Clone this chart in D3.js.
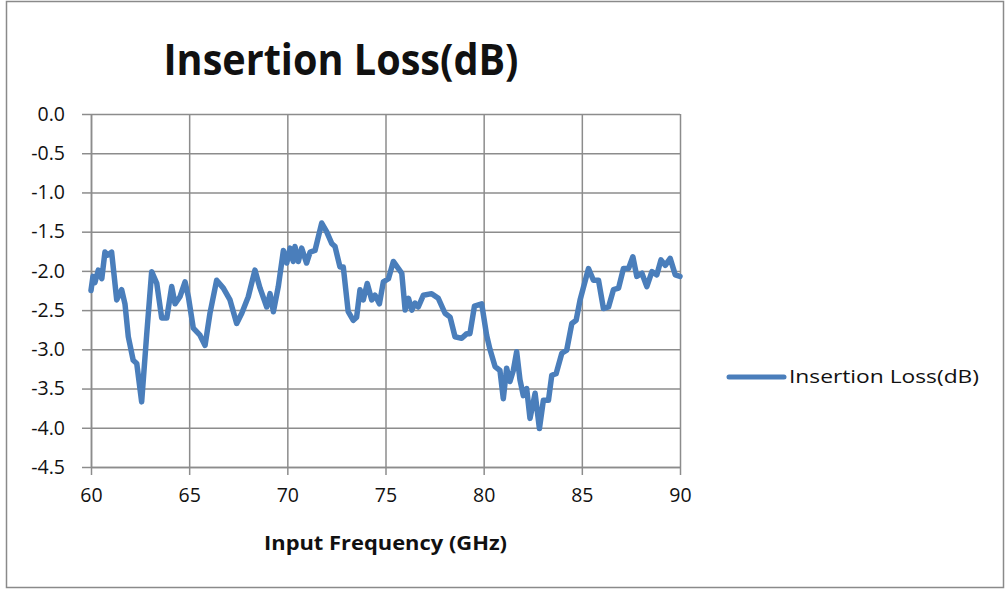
<!DOCTYPE html>
<html>
<head>
<meta charset="utf-8">
<script src="https://cdn.jsdelivr.net/npm/d3@7"></script>
<style>
  body { margin: 0; background: #fff; }
  text { font-family: "Open Sans", "DejaVu Sans", sans-serif; fill: #111; }
</style>
</head>
<body>
<div id="chart"></div>
<script>
// frequency (GHz) and insertion loss (dB)
var freq = [60.0, 60.1, 60.2, 60.37, 60.55, 60.71, 60.85, 61.05, 61.31, 61.56, 61.73, 61.9,
  62.15, 62.33, 62.58, 62.84, 63.09, 63.35, 63.6, 63.86, 64.11, 64.28, 64.53, 64.79, 64.96,
  65.21, 65.55, 65.81, 66.06, 66.4, 66.74, 67.08, 67.42, 67.68, 68.01, 68.35, 68.61, 68.95,
  69.12, 69.29, 69.54, 69.8, 69.97, 70.14, 70.3, 70.39, 70.56, 70.73, 70.98, 71.16, 71.41,
  71.75, 72.0, 72.26, 72.43, 72.68, 72.85, 73.1, 73.36, 73.53, 73.7, 73.87, 74.07, 74.3,
  74.47, 74.69, 74.89, 75.15, 75.4, 75.66, 75.83, 76.0, 76.17, 76.34, 76.5, 76.67, 76.93,
  77.35, 77.69, 78.03, 78.29, 78.54, 78.88, 79.14, 79.3, 79.53, 79.9, 80.15, 80.32, 80.58,
  80.83, 81.0, 81.17, 81.34, 81.51, 81.68, 81.85, 82.02, 82.19, 82.36, 82.62, 82.84, 83.04,
  83.3, 83.47, 83.69, 83.98, 84.23, 84.49, 84.71, 84.91, 85.34, 85.59, 85.85, 86.1, 86.36,
  86.61, 86.87, 87.12, 87.38, 87.6, 87.8, 88.06, 88.31, 88.57, 88.82, 89.03, 89.25, 89.5,
  89.76, 90.0];
var loss = [-2.25, -2.07, -2.15, -1.99, -2.1, -1.76, -1.8, -1.76, -2.37, -2.24, -2.42, -2.84,
  -3.14, -3.18, -3.67, -2.8, -2.01, -2.16, -2.6, -2.6, -2.2, -2.42, -2.33, -2.14, -2.33,
  -2.73, -2.82, -2.95, -2.54, -2.12, -2.22, -2.37, -2.67, -2.54, -2.33, -1.99, -2.22, -2.46,
  -2.29, -2.52, -2.2, -1.74, -1.9, -1.71, -1.88, -1.69, -1.88, -1.71, -1.9, -1.76, -1.74,
  -1.39, -1.5, -1.65, -1.69, -1.95, -1.95, -2.52, -2.63, -2.59, -2.24, -2.37, -2.16, -2.37,
  -2.31, -2.42, -2.14, -2.1, -1.88, -1.97, -2.03, -2.5, -2.35, -2.5, -2.41, -2.46, -2.31,
  -2.29, -2.35, -2.54, -2.59, -2.84, -2.86, -2.8, -2.8, -2.45, -2.42, -2.82, -3.0, -3.22,
  -3.27, -3.63, -3.24, -3.41, -3.27, -3.03, -3.39, -3.59, -3.5, -3.88, -3.56, -4.01, -3.65,
  -3.65, -3.33, -3.31, -3.05, -3.01, -2.67, -2.63, -2.37, -1.97, -2.12, -2.12, -2.48, -2.46,
  -2.24, -2.22, -1.97, -1.97, -1.82, -2.07, -2.03, -2.2, -2.01, -2.05, -1.86, -1.93, -1.84,
  -2.05, -2.07];
var xTicks = [60, 65, 70, 75, 80, 85, 90];
var yTicks = [0, -0.5, -1, -1.5, -2, -2.5, -3, -3.5, -4, -4.5];
var seriesName = "Insertion Loss(dB)";

var width = 1005, height = 589;
var plot = { left: 91, right: 680, top: 114, bottom: 467 };
var lineColor = "#4a7ebb";

var svg = d3.select("#chart").append("svg")
  .attr("width", width)
  .attr("height", height);

// outer chart border
svg.append("rect")
  .attr("x", 6.5).attr("y", 1.5)
  .attr("width", 997).attr("height", 586)
  .attr("fill", "#fff")
  .attr("stroke", "#8a8a8a")
  .attr("stroke-width", 1.5);

var x = d3.scaleLinear().domain([60, 90]).range([plot.left, plot.right]);
var y = d3.scaleLinear().domain([-4.5, 0]).range([plot.bottom, plot.top]);

var gridColor = "#8c8c8c";

// gridlines
svg.append("g")
  .attr("transform", `translate(0,${plot.bottom})`)
  .call(d3.axisBottom(x).tickValues(xTicks)
    .tickSize(-(plot.bottom - plot.top)).tickSizeOuter(0).tickFormat(""))
  .call((g) => g.select(".domain").remove())
  .call((g) => g.selectAll("line").attr("stroke", gridColor).attr("stroke-width", 1.5));

svg.append("g")
  .attr("transform", `translate(${plot.left},0)`)
  .call(d3.axisLeft(y).tickValues(yTicks)
    .tickSize(-(plot.right - plot.left)).tickSizeOuter(0).tickFormat(""))
  .call((g) => g.select(".domain").remove())
  .call((g) => g.selectAll("line").attr("stroke", gridColor).attr("stroke-width", 1.5));

// axes with outside tick marks and labels
var xAxis = svg.append("g")
  .attr("transform", `translate(0,${plot.bottom})`)
  .call(d3.axisBottom(x).tickValues(xTicks).tickSize(8).tickSizeOuter(0)
    .tickPadding(13).tickFormat(d3.format("d")));
var yAxis = svg.append("g")
  .attr("transform", `translate(${plot.left},0)`)
  .call(d3.axisLeft(y).tickValues(yTicks).tickSize(9).tickSizeOuter(0)
    .tickPadding(17).tickFormat((d) => d3.format(".1f")(d).replace("−", "-")));

[xAxis, yAxis].forEach((g) => {
  g.select(".domain").attr("stroke", gridColor).attr("stroke-width", 1.5);
  g.selectAll("line").attr("stroke", gridColor).attr("stroke-width", 1.5);
  g.selectAll("text")
    .style("font-family", "'Open Sans', sans-serif")
    .style("font-size", "19.5px")
    .attr("fill", "#111");
});

// the series
var points = freq.map((f, i) => [f, loss[i]]);
var line = d3.line().x((d) => x(d[0])).y((d) => y(d[1]));
svg.append("path")
  .datum(points)
  .attr("d", line)
  .attr("fill", "none")
  .attr("stroke", lineColor)
  .attr("stroke-width", 5.5)
  .attr("stroke-linejoin", "round")
  .attr("stroke-linecap", "round");

// title
svg.append("text")
  .attr("x", 341)
  .attr("y", 75)
  .attr("text-anchor", "middle")
  .attr("textLength", 355)
  .attr("lengthAdjust", "spacingAndGlyphs")
  .style("font-size", "43px")
  .style("font-weight", "bold")
  .text(seriesName);

// x axis title
svg.append("text")
  .attr("x", (plot.left + plot.right) / 2)
  .attr("y", 550)
  .attr("text-anchor", "middle")
  .attr("textLength", 243)
  .attr("lengthAdjust", "spacingAndGlyphs")
  .style("font-size", "19px")
  .style("font-weight", "bold")
  .text("Input Frequency (GHz)");

// legend
var legend = svg.append("g").attr("transform", "translate(729,377)");
legend.append("line")
  .attr("x1", 0).attr("x2", 55)
  .attr("stroke", lineColor)
  .attr("stroke-width", 5)
  .attr("stroke-linecap", "round");
legend.append("text")
  .attr("x", 60)
  .attr("dy", "0.35em")
  .attr("textLength", 190)
  .attr("lengthAdjust", "spacingAndGlyphs")
  .style("font-size", "18.5px")
  .text(seriesName);
</script>
</body>
</html>
